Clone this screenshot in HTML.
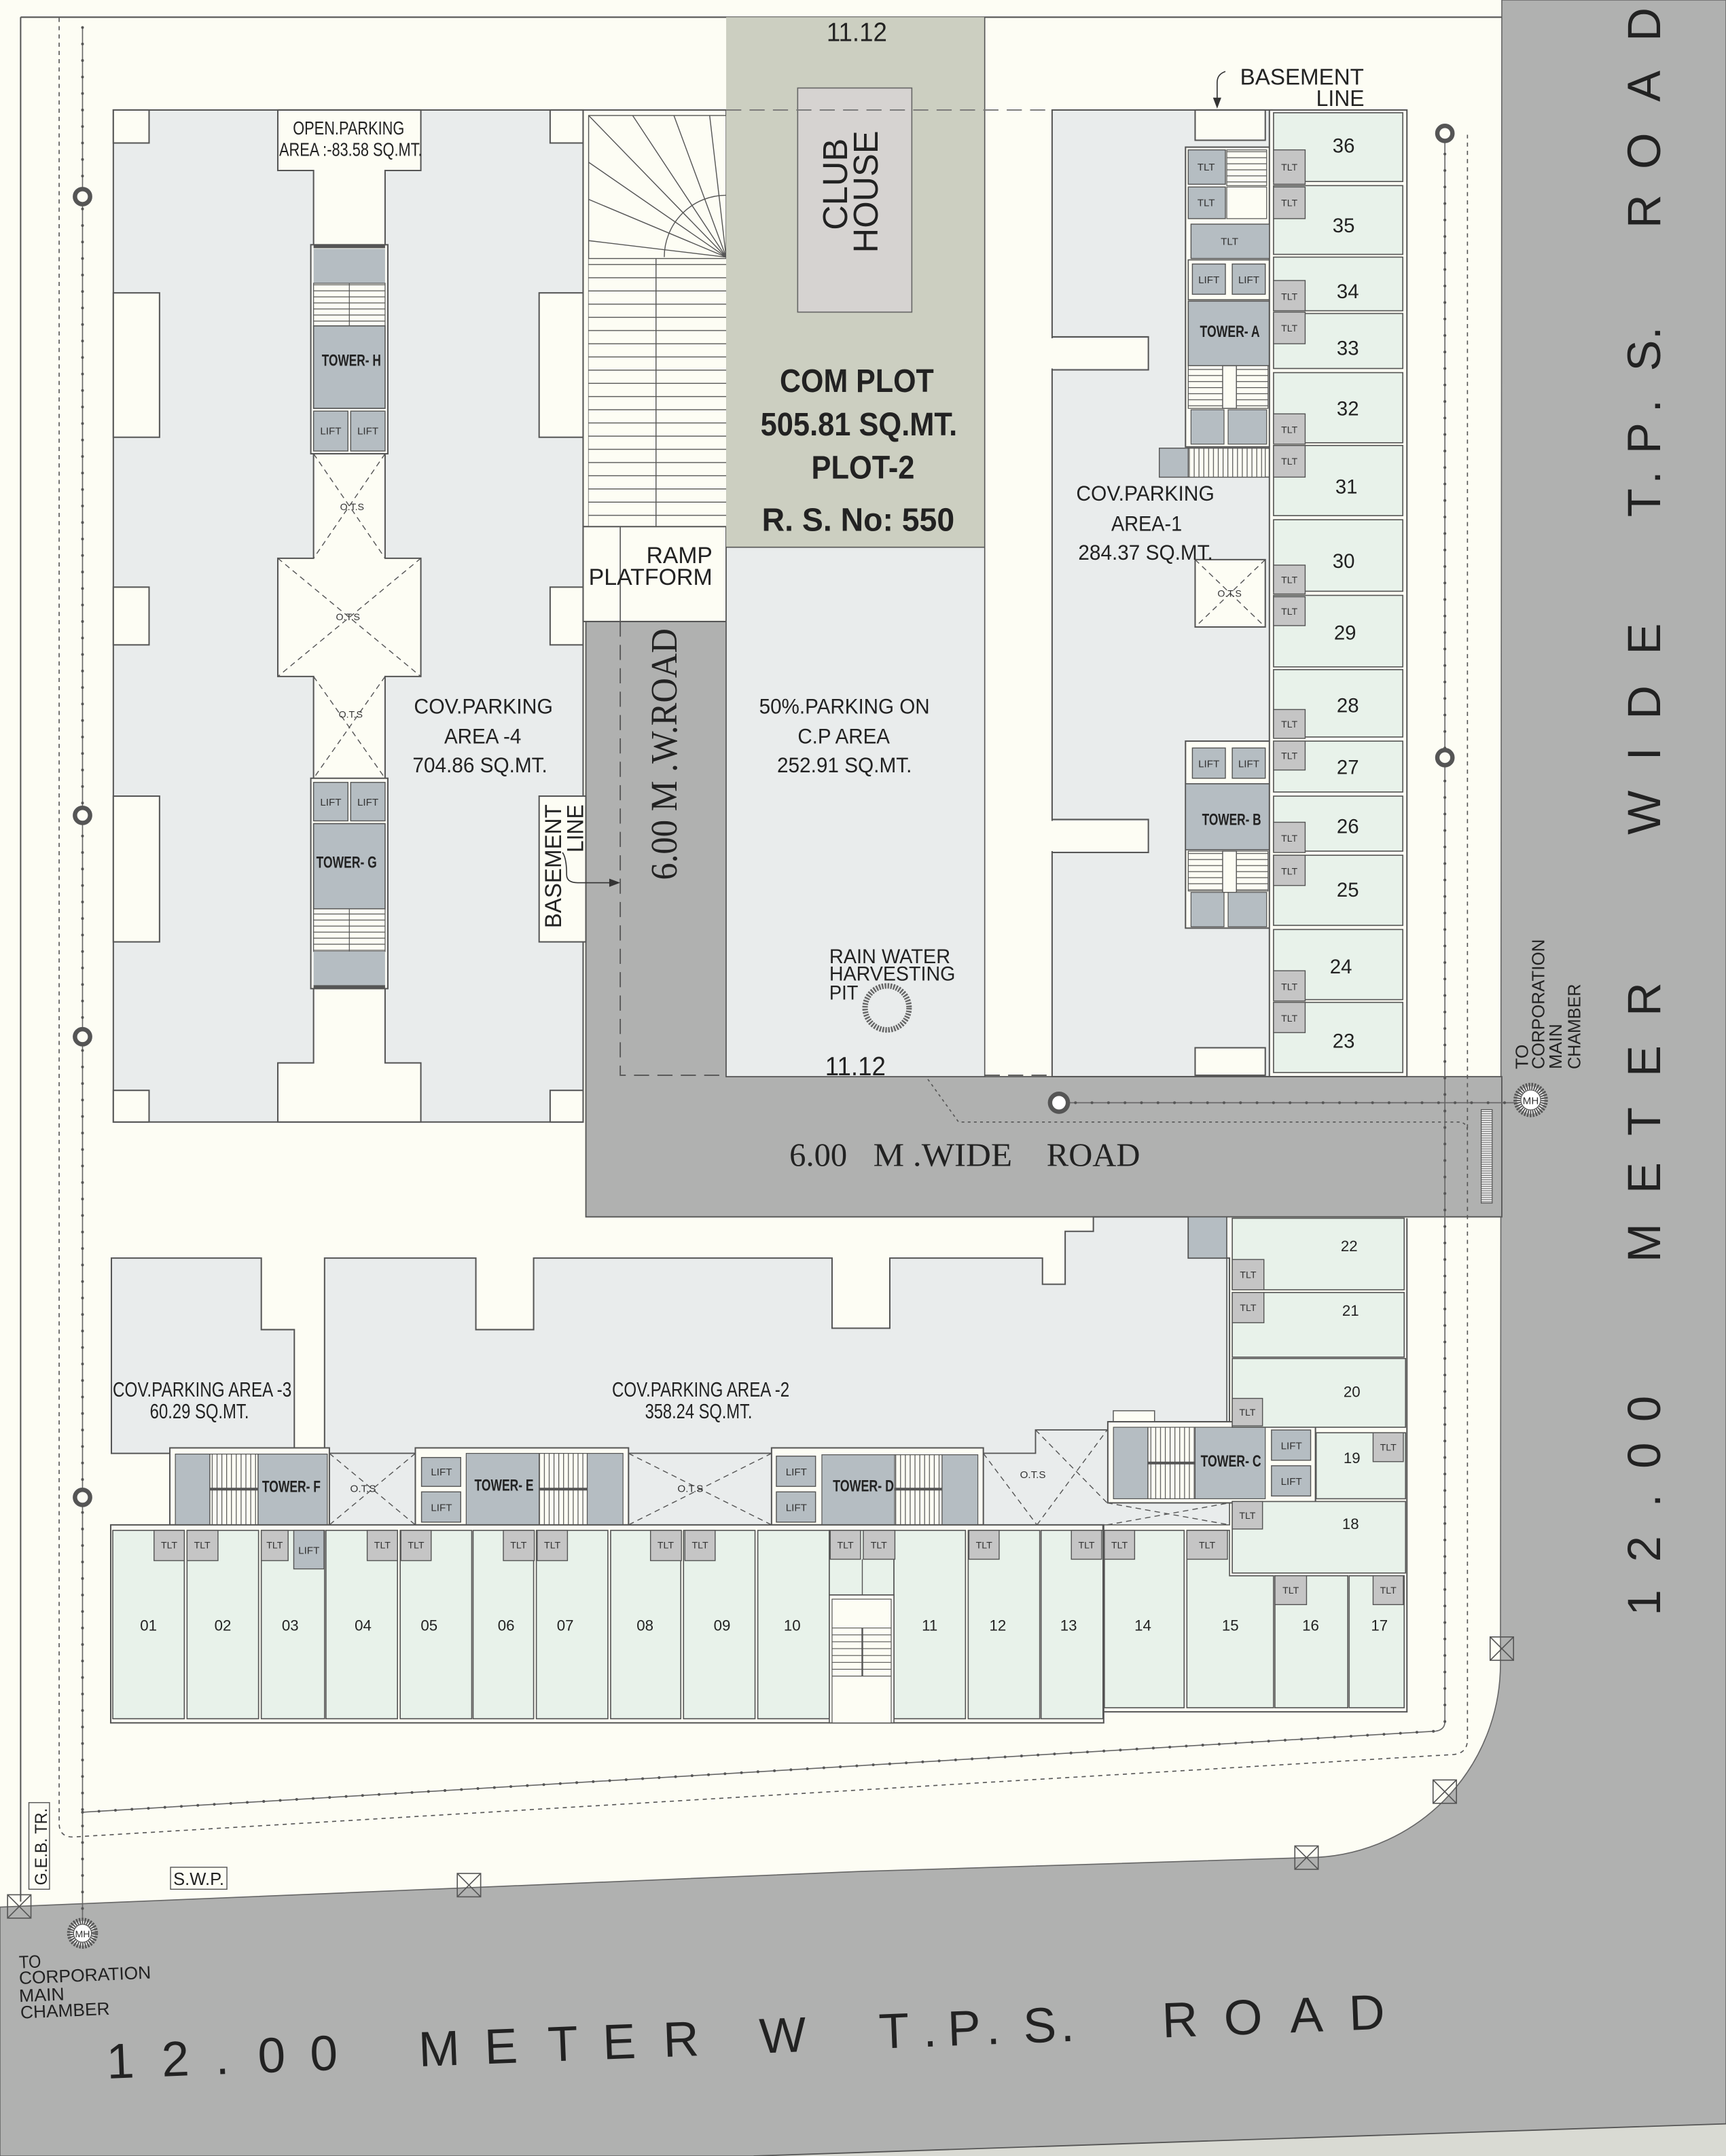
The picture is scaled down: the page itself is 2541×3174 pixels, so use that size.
<!DOCTYPE html>
<html><head><meta charset="utf-8"><title>Site Plan</title>
<style>
html,body{margin:0;padding:0;background:#FDFDF4;width:2541px;height:3174px;overflow:hidden}
svg{display:block}
</style></head><body>
<svg xmlns="http://www.w3.org/2000/svg" width="2541" height="3174" viewBox="0 0 1255 1568" preserveAspectRatio="none" font-family="'Liberation Sans', sans-serif">
<defs>
<pattern id="ht" width="20" height="4.4" patternUnits="userSpaceOnUse"><rect width="20" height="4.4" fill="#FDFDF4"/><line x1="0" y1="0.3" x2="20" y2="0.3" stroke="#555" stroke-width="0.6"/></pattern>
<pattern id="ht2" width="20" height="9.6" patternUnits="userSpaceOnUse"><rect width="20" height="9.6" fill="#FDFDF4"/><line x1="0" y1="0.4" x2="20" y2="0.4" stroke="#555" stroke-width="0.7"/></pattern>
<pattern id="vt" width="3.5" height="20" patternUnits="userSpaceOnUse"><rect width="3.5" height="20" fill="#FDFDF4"/><line x1="0.3" y1="0" x2="0.3" y2="20" stroke="#555" stroke-width="0.6"/></pattern>
<pattern id="gr" width="10" height="1.6" patternUnits="userSpaceOnUse"><rect width="10" height="1.6" fill="#eee"/><line x1="0" y1="0.4" x2="10" y2="0.4" stroke="#555" stroke-width="0.5"/></pattern>
</defs>

<!-- background -->
<rect x="0" y="0" width="1255" height="1568" fill="#FDFDF4"/>

<!-- 12m roads -->
<path d="M1092,0 L1255,0 L1255,1568 L0,1568 L0,1387 L627,1361 L950,1351 A141 141 0 0 0 1091,1210 Z" fill="#B0B1B0" stroke="#666" stroke-width="0.8"/>
<path d="M548,1568 L1255,1544.6 L1255,1568 Z" fill="#D9DAD3"/>
<line x1="548" y1="1568" x2="1255" y2="1544.6" stroke="#555" stroke-width="0.9"/>

<!-- 6m road -->
<path d="M426,452 L528,452 L528,783 L1092,783 L1092,885 L426,885 Z" fill="#B0B1B0" stroke="#555" stroke-width="0.9"/>

<!-- plot boundary lines -->
<line x1="15" y1="12.5" x2="1092" y2="12.5" stroke="#555" stroke-width="1"/>
<line x1="15" y1="12.5" x2="15" y2="1383" stroke="#555" stroke-width="1"/>
<!-- dashed compound line -->
<path d="M43,13 L43,1326 Q43,1336 53,1336 L1057,1276 Q1067,1275 1067,1265 L1067,98" fill="none" stroke="#555" stroke-width="0.8" stroke-dasharray="3 3"/>
<!-- chain drain line -->
<path d="M60,20 L60,1396 M60,1318 L1044,1259 Q1050.6,1258 1050.6,1252 L1050.6,97 M770,802 L1113,802" fill="none" stroke="#666" stroke-width="0.8"/>
<path d="M60,20 L60,1396 M60,1318 L1044,1259 M1050.6,1252 L1050.6,97 M770,802 L1113,802" fill="none" stroke="#555" stroke-width="2" stroke-linecap="round" stroke-dasharray="0 12"/>
<!-- dotted from pit -->
<path d="M651,752 L697,816 L1060,816 Q1067,816 1067,823" fill="none" stroke="#555" stroke-width="0.8" stroke-dasharray="2 2.5"/>

<!-- ===== LEFT PARKING AREA-4 ===== -->
<rect x="82.4" y="80" width="341.6" height="736" fill="#E9ECEC" stroke="#555" stroke-width="1"/>
<g fill="#FDFDF4" stroke="#555" stroke-width="1">
<rect x="82.4" y="80" width="26" height="24"/>
<rect x="400" y="80" width="24" height="24"/>
<rect x="82.4" y="213" width="33.6" height="105"/>
<rect x="392" y="213" width="32" height="105"/>
<rect x="82.4" y="427" width="26" height="42"/>
<rect x="400" y="427" width="24" height="42"/>
<rect x="82.4" y="579" width="33.6" height="106"/>
<rect x="392" y="579" width="34" height="106"/>
<rect x="82.4" y="793" width="26" height="23"/>
<rect x="400" y="793" width="24" height="23"/>
<path d="M202,80 L306,80 L306,124 L280,124 L280,406 L306,406 L306,492 L280,492 L280,773 L306,773 L306,816 L202,816 L202,773 L228,773 L228,492 L202,492 L202,406 L228,406 L228,124 L202,124 Z"/>
</g>
<!-- OTS crosses -->
<g stroke="#555" stroke-width="0.7" stroke-dasharray="4 3" fill="none">
<path d="M228,330 L280,406 M280,330 L228,406"/>
<path d="M202,406 L306,492 M306,406 L202,492"/>
<path d="M228,492 L280,566 M280,492 L228,566"/>
</g>
<g font-size="7" fill="#333" text-anchor="middle">
<text x="256" y="371">O.T.S</text>
<text x="253" y="451">O.T.S</text>
<text x="255" y="522">O.T.S</text>
</g>

<!-- Tower H -->
<rect x="226" y="178" width="56" height="152" fill="#FDFDF4" stroke="#555" stroke-width="1"/>
<rect x="228" y="178" width="52" height="2.5" fill="#555"/>
<rect x="228" y="181" width="52" height="25" fill="#B5BDC2"/>
<rect x="228" y="206" width="52" height="31" fill="url(#ht)" stroke="#555" stroke-width="0.6"/>
<line x1="254" y1="206" x2="254" y2="237" stroke="#555" stroke-width="0.6"/>
<rect x="228" y="237" width="52" height="60" fill="#B5BDC2" stroke="#555" stroke-width="0.8"/>
<!-- Tower G -->
<rect x="226" y="566" width="56" height="153" fill="#FDFDF4" stroke="#555" stroke-width="1"/>
<rect x="228" y="599" width="52" height="62" fill="#B5BDC2" stroke="#555" stroke-width="0.8"/>
<rect x="228" y="661" width="52" height="31" fill="url(#ht)" stroke="#555" stroke-width="0.6"/>
<line x1="254" y1="661" x2="254" y2="692" stroke="#555" stroke-width="0.6"/>
<rect x="228" y="692" width="52" height="25" fill="#B5BDC2"/>
<rect x="228" y="716.5" width="52" height="2.5" fill="#555"/>

<!-- ===== RAMP STAIRS ===== -->
<rect x="424" y="80" width="104" height="303" fill="#FDFDF4" stroke="#555" stroke-width="1"/>
<rect x="428" y="84" width="100" height="299" fill="#FDFDF4" stroke="#555" stroke-width="0.7"/>
<rect x="428" y="188" width="100" height="195" fill="url(#ht2)"/>
<line x1="477" y1="188" x2="477" y2="383" stroke="#555" stroke-width="0.7"/>
<g stroke="#555" stroke-width="0.7" fill="none">
<path d="M528,187 L428,84 M528,187 L460,84 M528,187 L490,84 M528,187 L516,84 M528,187 L428,118 M528,187 L428,145 M528,187 L428,175"/>
<path d="M483,187 A45 45 0 0 1 528,142"/>
<line x1="428" y1="188" x2="528" y2="188"/>
</g>
<!-- ramp platform -->
<rect x="424" y="383" width="104" height="69" fill="#FDFDF4" stroke="#555" stroke-width="1"/>
<line x1="451" y1="383" x2="451" y2="452" stroke="#555" stroke-width="0.8"/>
<path d="M451,452 L451,782 L921,782" fill="none" stroke="#555" stroke-width="0.9" stroke-dasharray="11 6"/>

<!-- ===== CLUB PLOT ===== -->
<rect x="528" y="12.5" width="188" height="385.5" fill="#CCCFC1"/>
<line x1="716" y1="12.5" x2="716" y2="783" stroke="#555" stroke-width="0.8"/>
<rect x="580" y="64" width="83" height="163" fill="#D6D3D1" stroke="#666" stroke-width="0.8"/>
<line x1="528" y1="80" x2="868" y2="80" stroke="#777" stroke-width="0.9" stroke-dasharray="11 6"/>
<!-- 50% parking -->
<rect x="528" y="398" width="188" height="385" fill="#E9ECEC" stroke="#555" stroke-width="0.8"/>
<!-- rain water pit -->
<circle cx="645" cy="733" r="16" fill="none" stroke="#666" stroke-width="4" stroke-dasharray="1.2 0.9"/>

<!-- ===== AREA-1 PARKING ===== -->
<rect x="765" y="80" width="160" height="703" fill="#E9ECEC" stroke="#555" stroke-width="1"/>
<rect x="763" y="246" width="72" height="22" fill="#FDFDF4"/>
<path d="M765,245 H835 V269 H765" fill="none" stroke="#555" stroke-width="1"/>
<rect x="763" y="597" width="72" height="22" fill="#FDFDF4"/>
<path d="M765,596 H835 V620 H765" fill="none" stroke="#555" stroke-width="1"/>
<rect x="869" y="80" width="51" height="22" fill="#FDFDF4" stroke="#555" stroke-width="1"/>
<rect x="869" y="762" width="51" height="20" fill="#FDFDF4" stroke="#555" stroke-width="1"/>
<!-- OTS box -->
<rect x="869" y="407" width="51" height="49" fill="#FDFDF4" stroke="#555" stroke-width="1"/>
<path d="M869,407 L920,456 M920,407 L869,456" stroke="#555" stroke-width="0.7" stroke-dasharray="4 3"/>
<text x="894" y="434" font-size="7" fill="#333" text-anchor="middle">O.T.S</text>

<!-- Tower A -->
<rect x="862" y="107" width="63" height="218" fill="#FDFDF4" stroke="#555" stroke-width="1"/>
<rect x="892" y="109" width="29" height="26" fill="url(#ht)" stroke="#555" stroke-width="0.6"/>
<rect x="892" y="136" width="29" height="23" fill="#FDFDF4" stroke="#555" stroke-width="0.6"/>
<rect x="864" y="189" width="59" height="29" fill="#FDFDF4" stroke="#555" stroke-width="0.8"/>
<rect x="864" y="219" width="59" height="47" fill="#B5BDC2" stroke="#555" stroke-width="0.8"/>
<rect x="864" y="266" width="58" height="31" fill="url(#ht)" stroke="#555" stroke-width="0.6"/>
<rect x="889" y="266" width="10" height="31" fill="#FDFDF4" stroke="#555" stroke-width="0.7"/>
<rect x="866" y="298" width="24" height="25" fill="#B5BDC2" stroke="#555" stroke-width="0.6"/>
<rect x="893" y="298" width="28" height="25" fill="#B5BDC2" stroke="#555" stroke-width="0.6"/>
<rect x="843" y="326" width="82" height="21" fill="#FDFDF4" stroke="#555" stroke-width="0.8"/>
<rect x="843" y="326" width="21" height="21" fill="#B5BDC2" stroke="#555" stroke-width="0.6"/>
<rect x="864" y="326" width="56" height="21" fill="url(#vt)" stroke="#555" stroke-width="0.6"/>
<!-- Tower B -->
<rect x="862" y="539" width="63" height="136" fill="#FDFDF4" stroke="#555" stroke-width="1"/>
<rect x="862" y="570" width="62" height="48" fill="#B5BDC2" stroke="#555" stroke-width="0.8"/>
<rect x="864" y="619" width="58" height="29" fill="url(#ht)" stroke="#555" stroke-width="0.6"/>
<rect x="889" y="619" width="10" height="30" fill="#FDFDF4" stroke="#555" stroke-width="0.7"/>
<rect x="866" y="649" width="24" height="25" fill="#B5BDC2" stroke="#555" stroke-width="0.6"/>
<rect x="893" y="649" width="28" height="25" fill="#B5BDC2" stroke="#555" stroke-width="0.6"/>

<!-- Top-right units column -->
<rect x="923" y="80" width="100" height="703" fill="#FDFDF4" stroke="#555" stroke-width="1"/>
<g fill="#E8F2EA" stroke="#555" stroke-width="0.8">
<rect x="926" y="82" width="94" height="50"/>
<rect x="926" y="135" width="94" height="50"/>
<rect x="926" y="187" width="94" height="39"/>
<rect x="926" y="228" width="94" height="40"/>
<rect x="926" y="271" width="94" height="51"/>
<rect x="926" y="324" width="94" height="51"/>
<rect x="926" y="378" width="94" height="52"/>
<rect x="926" y="433" width="94" height="52"/>
<rect x="926" y="487" width="94" height="49"/>
<rect x="926" y="539" width="94" height="37"/>
<rect x="926" y="579" width="94" height="40"/>
<rect x="926" y="622" width="94" height="51"/>
<rect x="926" y="676" width="94" height="51"/>
<rect x="926" y="729" width="94" height="51"/>
</g>
<g font-size="14.5" fill="#222" text-anchor="middle">
<text x="977" y="111">36</text><text x="977" y="169">35</text><text x="980" y="217">34</text><text x="980" y="258">33</text>
<text x="980" y="302">32</text><text x="979" y="359">31</text><text x="977" y="413">30</text><text x="978" y="465">29</text>
<text x="980" y="518">28</text><text x="980" y="563">27</text><text x="980" y="606">26</text><text x="980" y="652">25</text>
<text x="975" y="708">24</text><text x="977" y="762">23</text>
</g>

<!-- ===== BOTTOM BLOCK ===== -->
<!-- parking area 3 -->
<path d="M81,915 L190,915 L190,967 L214,967 L214,1057 L81,1057 Z" fill="#E9ECEC" stroke="#555" stroke-width="1"/>
<!-- parking area 2 -->
<path d="M236,915 L346,915 L346,967 L388,967 L388,915 L605,915 L605,966 L647,966 L647,915 L758,915 L758,934 L774.5,934 L774.5,895.5 L795,895.5 L795,885 L864,885 L864,915 L894,915 L894,1034 L806,1034 L806,1040 L753,1040 L753,1057 L236,1057 Z" fill="#E9ECEC" stroke="#555" stroke-width="1"/>
<rect x="864" y="885" width="28" height="30" fill="#B5BDC2" stroke="#555" stroke-width="0.8"/>
<!-- OTS strips -->
<rect x="239.5" y="1057" width="62.5" height="52" fill="#E9ECEC" stroke="#555" stroke-width="0.8"/>
<rect x="457" y="1057" width="104" height="52" fill="#E9ECEC" stroke="#555" stroke-width="0.8"/>
<path d="M715,1057 L753,1057 L753,1040 L805.5,1040 L805.5,1093 L894,1093 L894,1109 L715,1109 Z" fill="#E9ECEC" stroke="#555" stroke-width="0.8"/>
<g stroke="#555" stroke-width="0.7" stroke-dasharray="4 3" fill="none">
<path d="M239.5,1057 L302,1109 M302,1057 L239.5,1109"/>
<path d="M457,1057 L561,1109 M561,1057 L457,1109"/>
<path d="M715,1057 L754,1109 M754,1109 L805,1040 M753,1040 L805,1093 M805,1093 L894,1109 M805,1109 L894,1093"/>
</g>
<g font-size="7.5" fill="#333" text-anchor="middle">
<text x="264" y="1085">O.T.S</text>
<text x="502" y="1085">O.T.S</text>
<text x="751" y="1075">O.T.S</text>
</g>
<!-- Tower F -->
<rect x="123.5" y="1053" width="116" height="56" fill="#FDFDF4" stroke="#555" stroke-width="1"/>
<rect x="127.5" y="1057.5" width="25" height="51.5" fill="#B5BDC2" stroke="#555" stroke-width="0.6"/>
<rect x="152.6" y="1057.5" width="35" height="51.5" fill="url(#vt)" stroke="#555" stroke-width="0.6"/>
<rect x="152.6" y="1082" width="35" height="2" fill="#555"/>
<rect x="187.7" y="1057.5" width="50.3" height="51.5" fill="#B5BDC2" stroke="#555" stroke-width="0.6"/>
<!-- Tower E -->
<rect x="302" y="1053" width="155" height="56" fill="#FDFDF4" stroke="#555" stroke-width="1"/>
<rect x="339" y="1057" width="53" height="52" fill="#B5BDC2" stroke="#555" stroke-width="0.6"/>
<rect x="392" y="1057" width="35" height="52" fill="url(#vt)" stroke="#555" stroke-width="0.6"/>
<rect x="392" y="1082" width="35" height="2" fill="#555"/>
<rect x="427" y="1057" width="26" height="52" fill="#B5BDC2" stroke="#555" stroke-width="0.6"/>
<!-- Tower D -->
<rect x="561" y="1053" width="154" height="56" fill="#FDFDF4" stroke="#555" stroke-width="1"/>
<rect x="597.6" y="1058" width="53" height="51" fill="#B5BDC2" stroke="#555" stroke-width="0.6"/>
<rect x="650.5" y="1058" width="34.5" height="51" fill="url(#vt)" stroke="#555" stroke-width="0.6"/>
<rect x="650.5" y="1082" width="34.5" height="2" fill="#555"/>
<rect x="685" y="1058" width="26" height="51" fill="#B5BDC2" stroke="#555" stroke-width="0.6"/>
<!-- Tower C -->
<rect x="809.5" y="1026" width="30" height="8" fill="#FDFDF4" stroke="#555" stroke-width="0.7"/>
<rect x="805.5" y="1034" width="151" height="59" fill="#FDFDF4" stroke="#555" stroke-width="1"/>
<rect x="809.6" y="1038" width="25" height="52" fill="#B5BDC2" stroke="#555" stroke-width="0.6"/>
<rect x="834.7" y="1038" width="34.3" height="52" fill="url(#vt)" stroke="#555" stroke-width="0.6"/>
<rect x="834.7" y="1063" width="34.3" height="2" fill="#555"/>
<rect x="869" y="1038" width="51" height="52" fill="#B5BDC2" stroke="#555" stroke-width="0.6"/>

<!-- bottom units row frames -->
<rect x="80.5" y="1109" width="722" height="144" fill="#FDFDF4" stroke="#555" stroke-width="1"/>
<path d="M802,1109 L802,1245 L1023,1245 L1023,886" fill="none" stroke="#555" stroke-width="1"/>
<line x1="892" y1="915" x2="892" y2="1034" stroke="#555" stroke-width="0.8"/>
<g fill="#E8F2EA" stroke="#555" stroke-width="0.8">
<rect x="82" y="1113" width="52" height="137"/>
<rect x="136" y="1113" width="52" height="137"/>
<rect x="190" y="1113" width="46" height="137"/>
<rect x="237" y="1113" width="52" height="137"/>
<rect x="291" y="1113" width="52" height="137"/>
<rect x="344" y="1113" width="44" height="137"/>
<rect x="390" y="1113" width="52" height="137"/>
<rect x="444" y="1113" width="51" height="137"/>
<rect x="497" y="1113" width="52" height="137"/>
<rect x="551" y="1113" width="52" height="137"/>
<rect x="603" y="1113" width="47" height="47"/>
<rect x="650" y="1113" width="52" height="137"/>
<rect x="704" y="1113" width="52" height="137"/>
<rect x="757" y="1113" width="45" height="137"/>
<rect x="803" y="1113" width="58" height="129"/>
<path d="M863,1113 L894,1113 L894,1146 L926,1146 L926,1242 L863,1242 Z"/>
<rect x="927" y="1146" width="53" height="96"/>
<rect x="981" y="1146" width="40" height="96"/>
<rect x="896" y="1092" width="126" height="52"/>
<rect x="957" y="1042" width="65" height="48"/>
<rect x="896" y="988" width="126" height="50"/>
<rect x="896" y="940" width="125" height="47"/>
<rect x="896" y="886" width="125" height="52"/>
</g>
<line x1="627" y1="1134" x2="627" y2="1160" stroke="#555" stroke-width="0.7"/>
<!-- stair between 10 & 11 -->
<rect x="603" y="1160" width="47" height="93" fill="#FDFDF4" stroke="#555" stroke-width="0.8"/>
<rect x="605" y="1163" width="43" height="90" fill="#FDFDF4" stroke="#555" stroke-width="0.6"/>
<g stroke="#555" stroke-width="0.6">
<line x1="605" y1="1184" x2="648" y2="1184"/><line x1="605" y1="1189" x2="648" y2="1189"/><line x1="605" y1="1194" x2="648" y2="1194"/><line x1="605" y1="1199" x2="648" y2="1199"/><line x1="605" y1="1204" x2="648" y2="1204"/><line x1="605" y1="1209" x2="648" y2="1209"/><line x1="605" y1="1214" x2="648" y2="1214"/><line x1="605" y1="1219" x2="648" y2="1219"/>
<line x1="627" y1="1184" x2="627" y2="1219" stroke-width="1.2"/>
</g>

<!-- LIFTS -->
<g fill="#B5BDC2" stroke="#555" stroke-width="0.7">
<rect x="228" y="299" width="25" height="29"/><rect x="255" y="299" width="25" height="29"/>
<rect x="228" y="569" width="25" height="28"/><rect x="255" y="569" width="25" height="28"/>
<rect x="867" y="192" width="24" height="22"/><rect x="896" y="192" width="24" height="22"/>
<rect x="867" y="544" width="24" height="22"/><rect x="896" y="544" width="24" height="22"/>
<rect x="306.5" y="1060" width="28.5" height="21"/><rect x="306.5" y="1085" width="28.5" height="22"/>
<rect x="564.5" y="1059" width="28.5" height="22"/><rect x="564.5" y="1085" width="28.5" height="22"/>
<rect x="924.5" y="1040" width="28.5" height="22"/><rect x="924.5" y="1066" width="28.5" height="22"/>
<rect x="213.6" y="1113" width="22" height="28"/>
<rect x="864" y="109" width="27" height="25"/><rect x="864" y="136" width="27" height="23"/>
<rect x="866" y="163" width="57" height="25"/>
</g>
<g font-size="7.5" fill="#333" text-anchor="middle">
<text x="240.5" y="316">LIFT</text><text x="267.5" y="316">LIFT</text>
<text x="240.5" y="586">LIFT</text><text x="267.5" y="586">LIFT</text>
<text x="879" y="206">LIFT</text><text x="908" y="206">LIFT</text>
<text x="879" y="558">LIFT</text><text x="908" y="558">LIFT</text>
<text x="321" y="1073">LIFT</text><text x="321" y="1099">LIFT</text>
<text x="579" y="1073">LIFT</text><text x="579" y="1099">LIFT</text>
<text x="939" y="1054">LIFT</text><text x="939" y="1080">LIFT</text>
<text x="224.6" y="1130">LIFT</text>
<text x="877" y="124">TLT</text><text x="877" y="150">TLT</text><text x="894" y="178">TLT</text>
</g>

<!-- TLTs -->
<g fill="#C5C5C5" stroke="#555" stroke-width="0.7">
<rect x="926" y="109" width="23" height="25"/><rect x="926" y="136" width="23" height="23"/>
<rect x="926" y="204" width="23" height="22"/><rect x="926" y="227" width="23" height="23"/>
<rect x="926" y="301" width="23" height="22"/><rect x="926" y="324" width="23" height="23"/>
<rect x="926" y="411" width="23" height="21"/><rect x="926" y="434" width="23" height="21"/>
<rect x="926" y="516" width="23" height="21"/><rect x="926" y="539" width="23" height="21"/>
<rect x="926" y="598" width="23" height="22"/><rect x="926" y="622" width="23" height="22"/>
<rect x="926" y="706" width="23" height="22"/><rect x="926" y="729" width="23" height="22"/>
<rect x="112" y="1113" width="22" height="22"/><rect x="136" y="1113" width="22.5" height="22"/>
<rect x="190" y="1113" width="19.5" height="22"/>
<rect x="267" y="1113" width="22" height="22"/><rect x="291.5" y="1113" width="22" height="22"/>
<rect x="366" y="1113" width="22.5" height="22"/><rect x="390.6" y="1113" width="22" height="22"/>
<rect x="473" y="1113" width="22.5" height="22"/><rect x="498" y="1113" width="22" height="22"/>
<rect x="603.7" y="1113" width="22" height="21"/><rect x="627.7" y="1113" width="23" height="21"/>
<rect x="704.5" y="1113" width="22" height="21"/>
<rect x="779" y="1113" width="22" height="21"/><rect x="803" y="1113" width="22" height="21"/>
<rect x="863" y="1113" width="29.5" height="21"/>
<rect x="896" y="1092" width="22" height="20"/>
<rect x="927" y="1146" width="23" height="21"/><rect x="998.4" y="1146" width="22" height="21"/>
<rect x="998.4" y="1042" width="22" height="21"/>
<rect x="896" y="1017" width="22" height="20"/>
<rect x="896" y="916" width="23" height="22"/><rect x="896" y="940" width="23" height="22"/>
</g>
<g font-size="7" fill="#333" text-anchor="middle">
<text x="937.5" y="124">TLT</text><text x="937.5" y="150">TLT</text>
<text x="937.5" y="218">TLT</text><text x="937.5" y="241">TLT</text>
<text x="937.5" y="315">TLT</text><text x="937.5" y="338">TLT</text>
<text x="937.5" y="424">TLT</text><text x="937.5" y="447">TLT</text>
<text x="937.5" y="529">TLT</text><text x="937.5" y="552">TLT</text>
<text x="937.5" y="612">TLT</text><text x="937.5" y="636">TLT</text>
<text x="937.5" y="720">TLT</text><text x="937.5" y="743">TLT</text>
<text x="123" y="1126">TLT</text><text x="147" y="1126">TLT</text><text x="199.7" y="1126">TLT</text>
<text x="278" y="1126">TLT</text><text x="302.5" y="1126">TLT</text>
<text x="377" y="1126">TLT</text><text x="401.6" y="1126">TLT</text>
<text x="484" y="1126">TLT</text><text x="509" y="1126">TLT</text>
<text x="614.7" y="1126">TLT</text><text x="639" y="1126">TLT</text>
<text x="715.5" y="1126">TLT</text>
<text x="790" y="1126">TLT</text><text x="814" y="1126">TLT</text>
<text x="877.7" y="1126">TLT</text>
<text x="907" y="1104.5">TLT</text>
<text x="938.5" y="1159">TLT</text><text x="1009.4" y="1159">TLT</text>
<text x="1009.4" y="1055">TLT</text>
<text x="907" y="1029.5">TLT</text>
<text x="907.5" y="929.5">TLT</text><text x="907.5" y="953.5">TLT</text>
</g>

<!-- bottom unit numbers -->
<g font-size="11" fill="#222" text-anchor="middle">
<text x="108" y="1186">01</text><text x="162" y="1186">02</text><text x="211" y="1186">03</text>
<text x="264" y="1186">04</text><text x="312" y="1186">05</text><text x="368" y="1186">06</text>
<text x="411" y="1186">07</text><text x="469" y="1186">08</text><text x="525" y="1186">09</text>
<text x="576" y="1186">10</text><text x="676" y="1186">11</text><text x="725.5" y="1186">12</text>
<text x="777" y="1186">13</text><text x="831" y="1186">14</text><text x="894.6" y="1186">15</text>
<text x="953" y="1186">16</text><text x="1003" y="1186">17</text>
<text x="982" y="1112">18</text><text x="983" y="1064">19</text><text x="983" y="1016">20</text>
<text x="982" y="957">21</text><text x="981" y="910">22</text>
</g>

<!-- tower labels -->
<g font-size="12" font-weight="bold" fill="#222">
<text x="234" y="266" textLength="43" lengthAdjust="spacingAndGlyphs">TOWER- H</text>
<text x="230" y="631" textLength="44" lengthAdjust="spacingAndGlyphs">TOWER- G</text>
<text x="872.5" y="245" textLength="43.5" lengthAdjust="spacingAndGlyphs">TOWER- A</text>
<text x="874" y="600" textLength="43" lengthAdjust="spacingAndGlyphs">TOWER- B</text>
<text x="190.6" y="1085" textLength="42.5" lengthAdjust="spacingAndGlyphs">TOWER- F</text>
<text x="345" y="1084" textLength="43" lengthAdjust="spacingAndGlyphs">TOWER- E</text>
<text x="605.6" y="1084.6" textLength="44.4" lengthAdjust="spacingAndGlyphs">TOWER- D</text>
<text x="873" y="1066.5" textLength="44" lengthAdjust="spacingAndGlyphs">TOWER- C</text>
</g>

<!-- manhole rings -->
<g fill="#FDFDF4" stroke="#555" stroke-width="3.2">
<circle cx="60" cy="143" r="5.5"/><circle cx="60" cy="593" r="5.5"/><circle cx="60" cy="754" r="5.5"/><circle cx="60" cy="1089" r="5.5"/>
<circle cx="1050.6" cy="97" r="5.5"/><circle cx="1050.6" cy="551" r="5.5"/>
<circle cx="770" cy="802" r="6.5" fill="#fff"/>
</g>
<!-- MH -->
<circle cx="1113" cy="800" r="10" fill="#fff" stroke="#555" stroke-width="5" stroke-dasharray="1.1 0.8"/>
<circle cx="1113" cy="800" r="7.2" fill="#fff" stroke="#555" stroke-width="0.6"/>
<text x="1113" y="803" font-size="7.5" fill="#333" text-anchor="middle">MH</text>
<circle cx="60" cy="1406" r="9" fill="#fff" stroke="#555" stroke-width="4.5" stroke-dasharray="1.1 0.8"/>
<circle cx="60" cy="1406" r="6.5" fill="#fff" stroke="#555" stroke-width="0.6"/>
<text x="60" y="1409" font-size="7" fill="#333" text-anchor="middle">MH</text>

<!-- grille -->
<rect x="1077" y="807" width="8" height="68" fill="url(#gr)" stroke="#555" stroke-width="0.6"/>

<!-- X markers -->
<g fill="none" stroke="#555" stroke-width="0.8">
<rect x="5.5" y="1378" width="17" height="17"/><path d="M5.5,1378 L22.5,1395 M22.5,1378 L5.5,1395"/>
<rect x="332.5" y="1362.5" width="17" height="17"/><path d="M332.5,1362.5 L349.5,1379.5 M349.5,1362.5 L332.5,1379.5"/>
<rect x="941.5" y="1342.5" width="17" height="17"/><path d="M941.5,1342.5 L958.5,1359.5 M958.5,1342.5 L941.5,1359.5"/>
<rect x="1042" y="1294.5" width="17" height="17"/><path d="M1042,1294.5 L1059,1311.5 M1059,1294.5 L1042,1311.5"/>
<rect x="1083.5" y="1190.5" width="17" height="17"/><path d="M1083.5,1190.5 L1100.5,1207.5 M1100.5,1190.5 L1083.5,1207.5"/>
</g>

<!-- ===== TEXTS ===== -->
<g fill="#222">
<!-- top-left open parking -->
<text x="213" y="97.7" font-size="13.5" textLength="81" lengthAdjust="spacingAndGlyphs">OPEN.PARKING</text>
<text x="203" y="113.5" font-size="13.5" textLength="104" lengthAdjust="spacingAndGlyphs">AREA :-83.58 SQ.MT.</text>
<!-- area 4 -->
<text x="301" y="519" font-size="15.5" textLength="101" lengthAdjust="spacingAndGlyphs">COV.PARKING</text>
<text x="323" y="540.6" font-size="15.5" textLength="56" lengthAdjust="spacingAndGlyphs">AREA -4</text>
<text x="300" y="561.7" font-size="15.5" textLength="98" lengthAdjust="spacingAndGlyphs">704.86 SQ.MT.</text>
<!-- area 1 -->
<text x="782.5" y="364" font-size="15.5" textLength="100.5" lengthAdjust="spacingAndGlyphs">COV.PARKING</text>
<text x="808" y="386" font-size="15.5" textLength="51.5" lengthAdjust="spacingAndGlyphs">AREA-1</text>
<text x="784" y="407" font-size="15.5" textLength="98" lengthAdjust="spacingAndGlyphs">284.37 SQ.MT.</text>
<!-- 50% parking -->
<text x="552" y="519" font-size="15.5" textLength="124" lengthAdjust="spacingAndGlyphs">50%.PARKING ON</text>
<text x="580" y="540.6" font-size="15.5" textLength="67" lengthAdjust="spacingAndGlyphs">C.P AREA</text>
<text x="565" y="561.7" font-size="15.5" textLength="98" lengthAdjust="spacingAndGlyphs">252.91 SQ.MT.</text>
<!-- ramp -->
<text x="470" y="409.6" font-size="17" textLength="48" lengthAdjust="spacingAndGlyphs">RAMP</text>
<text x="428" y="425.3" font-size="17" textLength="90" lengthAdjust="spacingAndGlyphs">PLATFORM</text>
<!-- com plot -->
<g font-weight="bold">
<text x="567" y="285" font-size="24" textLength="112" lengthAdjust="spacingAndGlyphs">COM PLOT</text>
<text x="553" y="316.6" font-size="24" textLength="143" lengthAdjust="spacingAndGlyphs">505.81 SQ.MT.</text>
<text x="590" y="348" font-size="24" textLength="75" lengthAdjust="spacingAndGlyphs">PLOT-2</text>
<text x="554" y="386" font-size="24" textLength="140" lengthAdjust="spacingAndGlyphs">R. S. No: 550</text>
</g>
<!-- 11.12 -->
<text x="601" y="30" font-size="19" textLength="44" lengthAdjust="spacingAndGlyphs">11.12</text>
<text x="600" y="782" font-size="19" textLength="44" lengthAdjust="spacingAndGlyphs">11.12</text>
<!-- club house -->
<text transform="translate(616,134) rotate(-90)" font-size="25" text-anchor="middle">CLUB</text>
<text transform="translate(638,139.5) rotate(-90)" font-size="25" text-anchor="middle">HOUSE</text>
<!-- basement line top right -->
<text x="901.7" y="61.5" font-size="16.5" textLength="90" lengthAdjust="spacingAndGlyphs">BASEMENT</text>
<text x="957" y="77" font-size="16.5" textLength="35" lengthAdjust="spacingAndGlyphs">LINE</text>
<!-- basement line left -->
<text transform="translate(408,675) rotate(-90)" font-size="17" textLength="90" lengthAdjust="spacingAndGlyphs">BASEMENT</text>
<text transform="translate(424,620) rotate(-90)" font-size="17" textLength="35" lengthAdjust="spacingAndGlyphs">LINE</text>
<!-- rain water -->
<text x="603" y="700.5" font-size="14.5" textLength="88" lengthAdjust="spacingAndGlyphs">RAIN WATER</text>
<text x="603" y="713" font-size="14.5" textLength="91.6" lengthAdjust="spacingAndGlyphs">HARVESTING</text>
<text x="603" y="727" font-size="14.5" textLength="21" lengthAdjust="spacingAndGlyphs">PIT</text>
<!-- parking area 3/2 -->
<text x="82" y="1015.7" font-size="15" textLength="130" lengthAdjust="spacingAndGlyphs">COV.PARKING AREA -3</text>
<text x="109" y="1031.6" font-size="15" textLength="72" lengthAdjust="spacingAndGlyphs">60.29 SQ.MT.</text>
<text x="445" y="1015.7" font-size="15" textLength="129" lengthAdjust="spacingAndGlyphs">COV.PARKING AREA -2</text>
<text x="469" y="1031.6" font-size="15" textLength="78" lengthAdjust="spacingAndGlyphs">358.24 SQ.MT.</text>
<!-- corporation right -->
<g font-size="13">
<text transform="translate(1111,777.6) rotate(-90)" textLength="18" lengthAdjust="spacingAndGlyphs">TO</text>
<text transform="translate(1123,777.6) rotate(-90)" textLength="94.6" lengthAdjust="spacingAndGlyphs">CORPORATION</text>
<text transform="translate(1135.5,777.6) rotate(-90)" textLength="33" lengthAdjust="spacingAndGlyphs">MAIN</text>
<text transform="translate(1149,777.6) rotate(-90)" textLength="62" lengthAdjust="spacingAndGlyphs">CHAMBER</text>
</g>
<!-- corporation bottom-left -->
<g font-size="13">
<text transform="translate(14,1431.5) rotate(-2.5)" textLength="16" lengthAdjust="spacingAndGlyphs">TO</text>
<text transform="translate(14,1443) rotate(-2.5)" textLength="96" lengthAdjust="spacingAndGlyphs">CORPORATION</text>
<text transform="translate(14,1456) rotate(-2.5)" textLength="33" lengthAdjust="spacingAndGlyphs">MAIN</text>
<text transform="translate(15,1468) rotate(-2.5)" textLength="65" lengthAdjust="spacingAndGlyphs">CHAMBER</text>
</g>
<!-- GEB / SWP -->
<rect x="21" y="1311" width="15" height="63" fill="#FDFDF4" stroke="#555" stroke-width="0.7"/>
<text transform="translate(34,1371) rotate(-90)" font-size="12.5" textLength="56" lengthAdjust="spacingAndGlyphs">G.E.B. TR.</text>
<rect x="124" y="1358" width="41" height="16" fill="#FDFDF4" stroke="#555" stroke-width="0.7"/>
<text x="126" y="1371" font-size="13" textLength="37" lengthAdjust="spacingAndGlyphs">S.W.P.</text>
</g>

<!-- arrows -->
<path d="M891,52 Q885,54 885,60 L885,72" fill="none" stroke="#333" stroke-width="0.8"/>
<path d="M882,71 L888,71 L885,79 Z" fill="#333"/>
<path d="M409,620 Q412,624 412,636 Q412,642 420,642 L444,642" fill="none" stroke="#333" stroke-width="0.8"/>
<path d="M443,639 L451,642 L443,645 Z" fill="#333"/>

<!-- 6m road labels (serif) -->
<g font-family="'Liberation Serif', serif" fill="#222">
<text transform="translate(492,640) rotate(-90)" font-size="27" textLength="183" lengthAdjust="spacingAndGlyphs">6.00 M .W.ROAD</text>
<text x="574" y="848" font-size="24" textLength="42" lengthAdjust="spacingAndGlyphs">6.00</text>
<text x="635" y="848" font-size="24" textLength="101" lengthAdjust="spacingAndGlyphs">M .WIDE</text>
<text x="761" y="848" font-size="24" textLength="68" lengthAdjust="spacingAndGlyphs">ROAD</text>
</g>

<!-- 12m road labels -->
<g fill="#222" font-size="34">
<g transform="translate(1207,1180) rotate(-90)">
<text x="5" y="0">1</text><text x="44" y="0">2</text><text x="84" y="0">.</text><text x="112" y="0">0</text><text x="146" y="0">0</text>
<text x="262" y="0">M</text><text x="312" y="0">E</text><text x="354" y="0">T</text><text x="397" y="0">E</text><text x="441" y="0">R</text>
<text x="573" y="0">W</text><text x="627" y="0">I</text><text x="657" y="0">D</text><text x="704" y="0">E</text>
<text x="804" y="0">T</text><text x="828" y="0">.</text><text x="850" y="0">P</text><text x="880" y="0">.</text><text x="910" y="0">S</text><text x="933" y="0">.</text>
<text x="1014" y="0">R</text><text x="1057" y="0">O</text><text x="1106" y="0">A</text><text x="1150" y="0">D</text>
</g>
</g>
<g fill="#222" font-size="36">
<g transform="translate(70,1512) rotate(-2.23)">
<text x="8" y="0">1</text><text x="48" y="0">2</text><text x="87" y="0">.</text><text x="118" y="0">0</text><text x="156" y="0">0</text>
<text x="235" y="0">M</text><text x="283" y="0">E</text><text x="329" y="0">T</text><text x="369" y="0">E</text><text x="413" y="0">R</text>
<text x="483" y="0">W</text>
<text x="570" y="0">T</text><text x="602" y="0">.</text><text x="620" y="0">P</text><text x="648" y="0">.</text><text x="675" y="0">S</text><text x="702" y="0">.</text>
<text x="776" y="0">R</text><text x="821" y="0">O</text><text x="869" y="0">A</text><text x="912" y="0">D</text>
</g>
</g>
</svg>
</body></html>
